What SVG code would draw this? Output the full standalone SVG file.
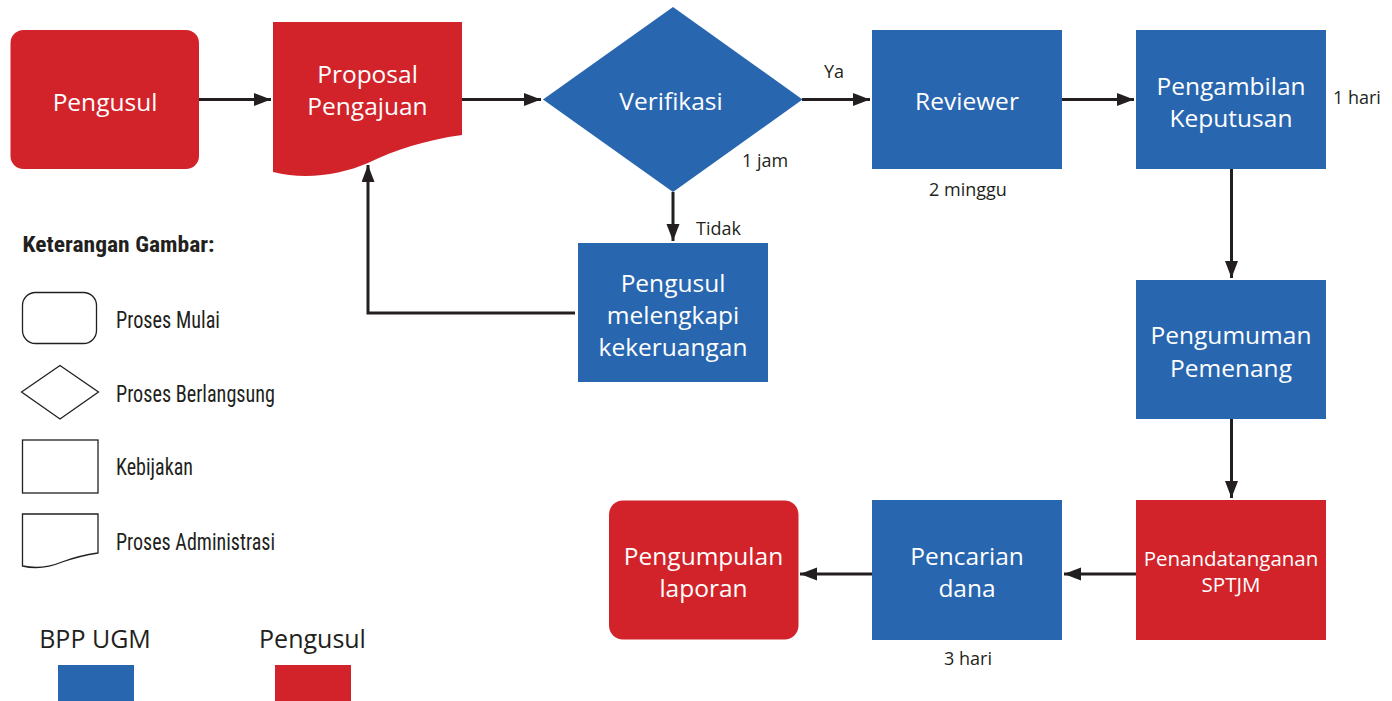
<svg xmlns="http://www.w3.org/2000/svg" width="1392" height="701" viewBox="0 0 1392 701">
<style>
.red{fill:#D2232A}
.blue{fill:#2866B0}
.nt{font-family:"Open Sans","Noto Sans","Liberation Sans",sans-serif;font-size:24.5px;fill:#FFFFFF;text-anchor:middle}
.lbl{font-family:"Open Sans","Noto Sans","Liberation Sans",sans-serif;font-size:18px;fill:#231F20}
.leg{font-family:"Liberation Sans Narrow","Roboto Condensed","Liberation Sans",sans-serif;font-size:23px;fill:#231F20}
.legs{fill:#FFFFFF;stroke:#231F20;stroke-width:1.3}
.con{fill:none;stroke:#231F20;stroke-width:3}
.key{font-family:"Open Sans","Noto Sans","Liberation Sans",sans-serif;font-size:25px;fill:#231F20}
</style>
<defs>
<marker id="ah" markerUnits="userSpaceOnUse" markerWidth="18" markerHeight="14" refX="17" refY="6.5" orient="auto">
<path d="M0,0 L17,6.5 L0,13 Z" fill="#231F20"/>
</marker>
</defs>

<g id="connectors">
<line class="con" x1="199" y1="99.5" x2="271" y2="99.5" marker-end="url(#ah)"/>
<line class="con" x1="462" y1="99.5" x2="541" y2="99.5" marker-end="url(#ah)"/>
<line class="con" x1="802" y1="99.5" x2="870" y2="99.5" marker-end="url(#ah)"/>
<line class="con" x1="1062" y1="99.5" x2="1134" y2="99.5" marker-end="url(#ah)"/>
<line class="con" x1="673" y1="192" x2="673" y2="241" marker-end="url(#ah)"/>
<polyline class="con" points="575,313 368,313 368,165" marker-end="url(#ah)"/>
<line class="con" x1="1231.5" y1="169" x2="1231.5" y2="278" marker-end="url(#ah)"/>
<line class="con" x1="1231.5" y1="390" x2="1231.5" y2="498" marker-end="url(#ah)"/>
<line class="con" x1="1136" y1="574" x2="1064" y2="574" marker-end="url(#ah)"/>
<line class="con" x1="872" y1="574" x2="800" y2="574" marker-end="url(#ah)"/>
</g>

<g id="n-pengusul">
<rect class="red" x="10.5" y="30" width="188.5" height="139" rx="13"/>
<text class="nt" x="105" y="111">Pengusul</text>
</g>

<g id="n-proposal">
<path class="red" d="M273,22 H462 V135 C425,140 395,150 368,163 C340,175 305,180 273,172 Z"/>
<text class="nt" x="367.5" y="83">Proposal</text>
<text class="nt" x="367.5" y="115">Pengajuan</text>
</g>

<g id="n-verifikasi">
<polygon class="blue" points="543,99.5 673,7 802.5,99.5 673,192"/>
<text class="nt" x="671" y="110">Verifikasi</text>
</g>

<g id="n-reviewer">
<rect class="blue" x="872" y="30" width="190" height="139"/>
<text class="nt" x="967" y="110">Reviewer</text>
</g>

<g id="n-pengambilan">
<rect class="blue" x="1136" y="30" width="190" height="139"/>
<text class="nt" x="1231" y="95">Pengambilan</text>
<text class="nt" x="1231" y="127">Keputusan</text>
</g>

<g id="n-melengkapi">
<rect class="blue" x="578" y="243" width="190" height="139"/>
<text class="nt" x="673" y="292">Pengusul</text>
<text class="nt" x="673" y="324">melengkapi</text>
<text class="nt" x="673" y="356">kekeruangan</text>
</g>

<g id="n-pengumuman">
<rect class="blue" x="1136" y="280" width="190" height="139"/>
<text class="nt" x="1231" y="344">Pengumuman</text>
<text class="nt" x="1231" y="377">Pemenang</text>
</g>

<g id="n-penandatanganan">
<rect class="red" x="1136" y="500" width="190" height="140"/>
<text class="nt" style="font-size:20.5px" x="1231" y="566">Penandatanganan</text>
<text class="nt" style="font-size:20.5px" x="1231" y="592">SPTJM</text>
</g>

<g id="n-pencarian">
<rect class="blue" x="872" y="500" width="190" height="140"/>
<text class="nt" x="967" y="565">Pencarian</text>
<text class="nt" x="967" y="597">dana</text>
</g>

<g id="n-pengumpulan">
<rect class="red" x="609" y="500.5" width="189.5" height="139" rx="14"/>
<text class="nt" x="703.5" y="565">Pengumpulan</text>
<text class="nt" x="703.5" y="597">laporan</text>
</g>

<g id="labels">
<text class="lbl" x="824" y="78">Ya</text>
<text class="lbl" x="742" y="167">1 jam</text>
<text class="lbl" x="968" y="196" text-anchor="middle">2 minggu</text>
<text class="lbl" x="1333" y="104">1 hari</text>
<text class="lbl" x="696" y="235">Tidak</text>
<text class="lbl" x="968" y="665" text-anchor="middle">3 hari</text>
</g>

<g id="legend">
<text class="leg" x="22.5" y="252" style="font-weight:bold;font-size:22px" textLength="192" lengthAdjust="spacingAndGlyphs">Keterangan Gambar:</text>
<rect class="legs" x="22.5" y="292.5" width="74" height="51" rx="13"/>
<text class="leg" x="116" y="328" textLength="104" lengthAdjust="spacingAndGlyphs">Proses Mulai</text>
<polygon class="legs" points="21.5,392 60,365.5 98.5,392 60,419"/>
<text class="leg" x="116" y="402" textLength="159" lengthAdjust="spacingAndGlyphs">Proses Berlangsung</text>
<rect class="legs" x="22.5" y="440" width="75.5" height="53"/>
<text class="leg" x="116" y="475" textLength="77" lengthAdjust="spacingAndGlyphs">Kebijakan</text>
<path class="legs" d="M22.5,514 H98 V553 C84,555 73,558 62,562 C50,567 36,569 22.5,566 Z"/>
<text class="leg" x="116" y="550" textLength="159" lengthAdjust="spacingAndGlyphs">Proses Administrasi</text>
</g>

<g id="key">
<text class="key" x="95" y="648" text-anchor="middle">BPP UGM</text>
<rect class="blue" x="58" y="665" width="76" height="36"/>
<text class="key" x="312.5" y="648" text-anchor="middle">Pengusul</text>
<rect class="red" x="275" y="665" width="76" height="36"/>
</g>
</svg>
